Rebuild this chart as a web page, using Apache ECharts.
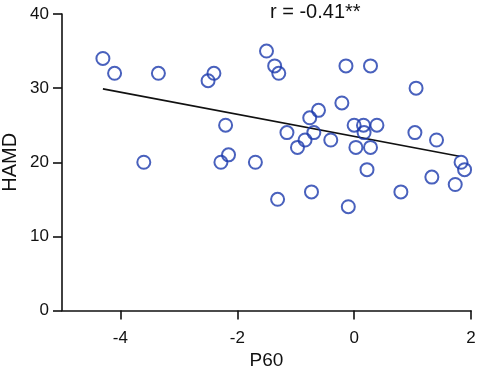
<!DOCTYPE html>
<html>
<head>
<meta charset="utf-8">
<script src="https://cdn.jsdelivr.net/npm/echarts@6/dist/echarts.min.js"></script>
<style>
  html, body { margin: 0; padding: 0; background: #fff; }
  #chart { width: 477px; height: 373px; }
</style>
</head>
<body>
<div id="chart"></div>
<script>
// P60 score vs HAMD score
const p60 = [-4.3, -4.1, -3.35, -3.6, -2.4, -2.5, -2.2, -2.28, -2.15, -1.69,
  -1.5, -1.36, -1.29, -1.31, -1.15, -0.97, -0.84, -0.76, -0.73, -0.69,
  -0.61, -0.40, -0.21, -0.14, -0.1, 0.0, 0.03, 0.16, 0.17, 0.22,
  0.28, 0.28, 0.39, 0.80, 1.04, 1.06, 1.33, 1.41, 1.73, 1.83, 1.89];
const hamd = [34, 32, 32, 20, 32, 31, 25, 20, 21, 20,
  35, 33, 32, 15, 24, 22, 23, 26, 16, 24,
  27, 23, 28, 33, 14, 25, 22, 25, 24, 19,
  33, 22, 25, 16, 24, 30, 18, 23, 17, 20, 19];

// regression line end points
const fitX = [-4.3, 1.8];
const fitY = [29.9, 20.8];

const xTicks = [-4, -2, 0, 2];
const yTicks = [0, 10, 20, 30, 40];
const corrLabel = 'r = -0.41**';

const font = 'Arial, "Liberation Sans", sans-serif';
const chart = echarts.init(document.getElementById('chart'));

chart.setOption({
  animation: false,
  grid: { left: 62, right: 6, top: 14, bottom: 62.5, containLabel: false, outerBoundsMode: 'none' },
  graphic: [{
    type: 'text',
    left: 270,
    top: 2,
    style: { text: corrLabel, font: '20px ' + font, fill: '#111' }
  }],
  xAxis: {
    type: 'value',
    min: -5,
    max: 2,
    name: 'P60',
    nameLocation: 'middle',
    nameGap: 40,
    nameTextStyle: { fontSize: 19, fontFamily: font, color: '#111' },
    axisLine: { onZero: false, lineStyle: { color: '#111', width: 1.6 } },
    axisTick: { show: true, length: 9, customValues: xTicks, lineStyle: { color: '#111', width: 1.6 } },
    axisLabel: { customValues: xTicks, margin: 19, fontSize: 17, fontFamily: font, color: '#111' },
    splitLine: { show: false }
  },
  yAxis: {
    type: 'value',
    min: yTicks[0],
    max: yTicks[yTicks.length - 1],
    interval: 10,
    name: 'HAMD',
    nameLocation: 'middle',
    nameGap: 42,
    nameMoveOverlap: false,
    nameTextStyle: { fontSize: 20, fontFamily: font, color: '#111' },
    axisLine: { show: true, onZero: false, lineStyle: { color: '#111', width: 1.6 } },
    axisTick: { show: true, length: 9, lineStyle: { color: '#111', width: 1.6 } },
    axisLabel: { margin: 13, fontSize: 17, fontFamily: font, color: '#111' },
    splitLine: { show: false }
  },
  series: [
    {
      type: 'scatter',
      data: p60.map((x, i) => [x, hamd[i]]),
      symbol: 'circle',
      symbolSize: 13,
      itemStyle: { color: 'rgba(0,0,0,0)', borderColor: '#1b3aad', borderWidth: 2 }
    },
    {
      type: 'line',
      data: fitX.map((x, i) => [x, fitY[i]]),
      symbol: 'none',
      lineStyle: { color: '#111', width: 1.6 },
      z: 1
    }
  ]
});
</script>
</body>
</html>
